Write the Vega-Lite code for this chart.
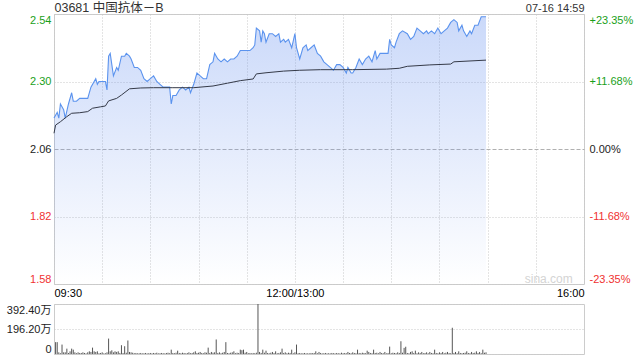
{
  "$schema": "https://vega.github.io/schema/vega-lite/v6.json",
  "padding": {"left": 5, "top": 0, "right": 2, "bottom": 2},
  "background": "#ffffff",
  "datasets": {
    "px": [
      {"m":0,"price":2.17},{"m":2,"price":2.19},{"m":3,"price":2.17},{"m":4,"price":2.22},{"m":6,"price":2.20},{"m":7,"price":2.17},{"m":9,"price":2.22},{"m":11,"price":2.26},{"m":12,"price":2.23},{"m":14,"price":2.23},{"m":16,"price":2.24},{"m":21,"price":2.24},{"m":23,"price":2.28},{"m":26,"price":2.31},{"m":27,"price":2.29},{"m":28,"price":2.30},{"m":30,"price":2.30},{"m":32,"price":2.30},{"m":33,"price":2.27},{"m":34,"price":2.39},{"m":35,"price":2.40},{"m":36,"price":2.36},{"m":37,"price":2.32},{"m":39,"price":2.35},{"m":40,"price":2.34},{"m":42,"price":2.39},{"m":44,"price":2.39},{"m":45,"price":2.40},{"m":47,"price":2.39},{"m":48,"price":2.38},{"m":50,"price":2.35},{"m":52,"price":2.35},{"m":54,"price":2.34},{"m":56,"price":2.31},{"m":58,"price":2.30},{"m":60,"price":2.31},{"m":62,"price":2.32},{"m":64,"price":2.30},{"m":66,"price":2.29},{"m":68,"price":2.28},{"m":70,"price":2.28},{"m":72,"price":2.28},{"m":73,"price":2.22},{"m":74,"price":2.25},{"m":76,"price":2.25},{"m":78,"price":2.27},{"m":80,"price":2.28},{"m":82,"price":2.27},{"m":84,"price":2.28},{"m":85,"price":2.26},{"m":87,"price":2.29},{"m":89,"price":2.33},{"m":91,"price":2.32},{"m":93,"price":2.31},{"m":95,"price":2.31},{"m":97,"price":2.36},{"m":99,"price":2.37},{"m":100,"price":2.40},{"m":102,"price":2.38},{"m":104,"price":2.37},{"m":106,"price":2.38},{"m":108,"price":2.37},{"m":110,"price":2.38},{"m":112,"price":2.38},{"m":114,"price":2.39},{"m":116,"price":2.41},{"m":120,"price":2.41},{"m":122,"price":2.41},{"m":124,"price":2.42},{"m":125,"price":2.43},{"m":126,"price":2.49},{"m":128,"price":2.48},{"m":129,"price":2.44},{"m":130,"price":2.48},{"m":131,"price":2.47},{"m":132,"price":2.44},{"m":134,"price":2.47},{"m":136,"price":2.47},{"m":138,"price":2.46},{"m":140,"price":2.47},{"m":141,"price":2.44},{"m":143,"price":2.45},{"m":144,"price":2.44},{"m":146,"price":2.45},{"m":148,"price":2.42},{"m":150,"price":2.47},{"m":151,"price":2.42},{"m":153,"price":2.38},{"m":155,"price":2.42},{"m":157,"price":2.43},{"m":158,"price":2.41},{"m":160,"price":2.42},{"m":162,"price":2.43},{"m":164,"price":2.40},{"m":166,"price":2.39},{"m":168,"price":2.37},{"m":170,"price":2.36},{"m":172,"price":2.35},{"m":174,"price":2.34},{"m":176,"price":2.36},{"m":178,"price":2.36},{"m":180,"price":2.35},{"m":182,"price":2.33},{"m":183,"price":2.35},{"m":185,"price":2.33},{"m":186,"price":2.33},{"m":188,"price":2.35},{"m":190,"price":2.38},{"m":192,"price":2.36},{"m":194,"price":2.38},{"m":196,"price":2.39},{"m":198,"price":2.37},{"m":200,"price":2.41},{"m":201,"price":2.38},{"m":203,"price":2.40},{"m":206,"price":2.40},{"m":208,"price":2.40},{"m":209,"price":2.45},{"m":210,"price":2.43},{"m":212,"price":2.42},{"m":213,"price":2.44},{"m":215,"price":2.47},{"m":217,"price":2.48},{"m":220,"price":2.47},{"m":222,"price":2.45},{"m":224,"price":2.46},{"m":226,"price":2.49},{"m":228,"price":2.48},{"m":230,"price":2.47},{"m":232,"price":2.48},{"m":233,"price":2.47},{"m":235,"price":2.48},{"m":237,"price":2.47},{"m":239,"price":2.49},{"m":241,"price":2.47},{"m":243,"price":2.48},{"m":245,"price":2.49},{"m":247,"price":2.51},{"m":249,"price":2.52},{"m":251,"price":2.51},{"m":252,"price":2.48},{"m":254,"price":2.50},{"m":255,"price":2.48},{"m":257,"price":2.46},{"m":259,"price":2.48},{"m":260,"price":2.47},{"m":262,"price":2.50},{"m":264,"price":2.50},{"m":266,"price":2.53},{"m":268,"price":2.53},{"m":269,"price":2.53}
    ],
    "avg": [
      {"m":0,"avg":2.116},{"m":1,"avg":2.145},{"m":4,"avg":2.157},{"m":8,"avg":2.175},{"m":11,"avg":2.187},{"m":16,"avg":2.189},{"m":21,"avg":2.193},{"m":24,"avg":2.205},{"m":29,"avg":2.210},{"m":32,"avg":2.213},{"m":34,"avg":2.231},{"m":39,"avg":2.240},{"m":42,"avg":2.252},{"m":47,"avg":2.274},{"m":54,"avg":2.277},{"m":62,"avg":2.278},{"m":74,"avg":2.278},{"m":87,"avg":2.278},{"m":99,"avg":2.284},{"m":108,"avg":2.294},{"m":116,"avg":2.303},{"m":124,"avg":2.309},{"m":126,"avg":2.327},{"m":132,"avg":2.331},{"m":143,"avg":2.337},{"m":153,"avg":2.340},{"m":166,"avg":2.342},{"m":186,"avg":2.342},{"m":207,"avg":2.344},{"m":215,"avg":2.347},{"m":220,"avg":2.354},{"m":234,"avg":2.359},{"m":247,"avg":2.362},{"m":249,"avg":2.370},{"m":269,"avg":2.376}
    ],
    "vol": [
      {"m":1,"vol":93},{"m":2,"vol":93},{"m":3,"vol":13},{"m":4,"vol":6},{"m":5,"vol":74},{"m":6,"vol":13},{"m":7,"vol":13},{"m":8,"vol":42},{"m":9,"vol":8},{"m":10,"vol":21},{"m":11,"vol":42},{"m":12,"vol":34},{"m":13,"vol":13},{"m":14,"vol":6},{"m":15,"vol":13},{"m":16,"vol":8},{"m":17,"vol":8},{"m":18,"vol":13},{"m":19,"vol":8},{"m":20,"vol":5},{"m":21,"vol":13},{"m":22,"vol":21},{"m":23,"vol":16},{"m":24,"vol":50},{"m":25,"vol":21},{"m":26,"vol":16},{"m":27,"vol":21},{"m":28,"vol":6},{"m":29,"vol":8},{"m":30,"vol":13},{"m":31,"vol":5},{"m":32,"vol":6},{"m":33,"vol":13},{"m":34,"vol":121},{"m":35,"vol":21},{"m":36,"vol":29},{"m":37,"vol":13},{"m":38,"vol":21},{"m":39,"vol":16},{"m":40,"vol":21},{"m":41,"vol":8},{"m":42,"vol":69},{"m":43,"vol":8},{"m":44,"vol":61},{"m":45,"vol":10},{"m":46,"vol":106},{"m":47,"vol":16},{"m":48,"vol":13},{"m":49,"vol":10},{"m":50,"vol":6},{"m":51,"vol":8},{"m":52,"vol":5},{"m":53,"vol":6},{"m":54,"vol":8},{"m":55,"vol":5},{"m":56,"vol":6},{"m":57,"vol":8},{"m":58,"vol":5},{"m":59,"vol":6},{"m":60,"vol":8},{"m":61,"vol":5},{"m":62,"vol":8},{"m":63,"vol":6},{"m":64,"vol":10},{"m":65,"vol":5},{"m":66,"vol":6},{"m":67,"vol":8},{"m":68,"vol":6},{"m":69,"vol":5},{"m":70,"vol":8},{"m":71,"vol":10},{"m":72,"vol":6},{"m":73,"vol":34},{"m":74,"vol":8},{"m":75,"vol":6},{"m":76,"vol":10},{"m":77,"vol":26},{"m":78,"vol":8},{"m":79,"vol":6},{"m":80,"vol":10},{"m":81,"vol":8},{"m":82,"vol":5},{"m":83,"vol":8},{"m":84,"vol":13},{"m":85,"vol":6},{"m":86,"vol":8},{"m":87,"vol":13},{"m":88,"vol":21},{"m":89,"vol":8},{"m":90,"vol":10},{"m":91,"vol":16},{"m":92,"vol":8},{"m":93,"vol":6},{"m":94,"vol":13},{"m":95,"vol":10},{"m":96,"vol":50},{"m":97,"vol":8},{"m":98,"vol":16},{"m":99,"vol":10},{"m":100,"vol":13},{"m":101,"vol":114},{"m":102,"vol":8},{"m":103,"vol":13},{"m":104,"vol":6},{"m":105,"vol":10},{"m":106,"vol":16},{"m":107,"vol":93},{"m":108,"vol":8},{"m":109,"vol":6},{"m":110,"vol":10},{"m":111,"vol":13},{"m":112,"vol":21},{"m":113,"vol":6},{"m":114,"vol":10},{"m":115,"vol":8},{"m":116,"vol":34},{"m":117,"vol":30},{"m":118,"vol":34},{"m":119,"vol":10},{"m":120,"vol":16},{"m":121,"vol":6},{"m":122,"vol":8},{"m":123,"vol":5},{"m":124,"vol":8},{"m":125,"vol":6},{"m":126,"vol":10},{"m":127,"vol":392.4},{"m":128,"vol":16},{"m":129,"vol":8},{"m":130,"vol":34},{"m":131,"vol":10},{"m":132,"vol":26},{"m":133,"vol":8},{"m":134,"vol":6},{"m":135,"vol":10},{"m":136,"vol":16},{"m":137,"vol":8},{"m":138,"vol":21},{"m":139,"vol":6},{"m":140,"vol":8},{"m":141,"vol":13},{"m":142,"vol":42},{"m":143,"vol":8},{"m":144,"vol":13},{"m":145,"vol":6},{"m":146,"vol":10},{"m":147,"vol":8},{"m":148,"vol":34},{"m":149,"vol":6},{"m":150,"vol":13},{"m":151,"vol":74},{"m":152,"vol":6},{"m":153,"vol":8},{"m":154,"vol":5},{"m":155,"vol":6},{"m":156,"vol":8},{"m":157,"vol":5},{"m":158,"vol":6},{"m":159,"vol":5},{"m":160,"vol":8},{"m":161,"vol":6},{"m":162,"vol":8},{"m":163,"vol":21},{"m":164,"vol":6},{"m":165,"vol":16},{"m":166,"vol":8},{"m":167,"vol":5},{"m":168,"vol":6},{"m":169,"vol":8},{"m":170,"vol":5},{"m":171,"vol":6},{"m":172,"vol":5},{"m":173,"vol":8},{"m":174,"vol":6},{"m":175,"vol":5},{"m":176,"vol":8},{"m":177,"vol":6},{"m":178,"vol":5},{"m":179,"vol":10},{"m":180,"vol":6},{"m":181,"vol":8},{"m":182,"vol":6},{"m":183,"vol":16},{"m":184,"vol":8},{"m":185,"vol":6},{"m":186,"vol":13},{"m":187,"vol":8},{"m":188,"vol":6},{"m":189,"vol":34},{"m":190,"vol":8},{"m":191,"vol":6},{"m":192,"vol":10},{"m":193,"vol":8},{"m":194,"vol":6},{"m":195,"vol":26},{"m":196,"vol":16},{"m":197,"vol":8},{"m":198,"vol":6},{"m":199,"vol":34},{"m":200,"vol":8},{"m":201,"vol":10},{"m":202,"vol":6},{"m":203,"vol":16},{"m":204,"vol":8},{"m":205,"vol":6},{"m":206,"vol":16},{"m":207,"vol":5},{"m":208,"vol":8},{"m":209,"vol":58},{"m":210,"vol":6},{"m":211,"vol":10},{"m":212,"vol":8},{"m":213,"vol":6},{"m":214,"vol":13},{"m":215,"vol":8},{"m":216,"vol":100},{"m":217,"vol":10},{"m":218,"vol":48},{"m":219,"vol":57},{"m":220,"vol":8},{"m":221,"vol":6},{"m":222,"vol":16},{"m":223,"vol":21},{"m":224,"vol":8},{"m":225,"vol":26},{"m":226,"vol":6},{"m":227,"vol":13},{"m":228,"vol":8},{"m":229,"vol":16},{"m":230,"vol":6},{"m":231,"vol":8},{"m":232,"vol":13},{"m":233,"vol":6},{"m":234,"vol":16},{"m":235,"vol":8},{"m":236,"vol":6},{"m":237,"vol":34},{"m":238,"vol":8},{"m":239,"vol":6},{"m":240,"vol":13},{"m":241,"vol":8},{"m":242,"vol":16},{"m":243,"vol":6},{"m":244,"vol":10},{"m":245,"vol":16},{"m":246,"vol":8},{"m":247,"vol":6},{"m":248,"vol":206},{"m":249,"vol":8},{"m":250,"vol":16},{"m":251,"vol":6},{"m":252,"vol":21},{"m":253,"vol":8},{"m":254,"vol":6},{"m":255,"vol":8},{"m":256,"vol":10},{"m":257,"vol":21},{"m":258,"vol":8},{"m":259,"vol":6},{"m":260,"vol":16},{"m":261,"vol":8},{"m":262,"vol":10},{"m":263,"vol":21},{"m":264,"vol":8},{"m":265,"vol":16},{"m":266,"vol":6},{"m":267,"vol":34},{"m":268,"vol":10},{"m":269,"vol":13}
    ]
  },
  "vconcat": [
    {
      "width": 530,
      "height": 270,
      "layer": [
        {
          "data": {"name": "px"},
          "mark": {"type": "area", "interpolate": "linear", "color": {"gradient": "linear", "x1": 0, "y1": 0, "x2": 0, "y2": 1, "stops": [{"offset": 0, "color": "rgba(110,150,240,0.36)"}, {"offset": 1, "color": "rgba(110,150,240,0.0)"}]}},
          "encoding": {
            "x": {"field": "m", "type": "quantitative", "scale": {"domain": [0, 330], "nice": false, "zero": false},
              "axis": {"orient": "bottom", "values": [0,30,60,90,120,150,180,210,240,270,300,330], "labelExpr": "datum.value == 0 ? '09:30' : datum.value == 150 ? '12:00/13:00' : datum.value == 330 ? '16:00' : ''", "labelFlush": true, "labelOverlap": false, "labelPadding": 3, "grid": true, "gridDash": [1, 2], "gridColor": "#c8c8c8"}},
            "y": {"field": "price", "type": "quantitative", "scale": {"domain": [1.58, 2.54], "nice": false, "zero": false},
              "axis": {"orient": "left", "values": [1.58, 1.82, 2.06, 2.30, 2.54], "format": ".2f", "labelFlush": true, "labelOverlap": false, "labelPadding": 3, "grid": true,
                "labelColor": {"condition": [{"test": "datum.value > 2.07", "value": "#1a9f1a"}, {"test": "datum.value < 2.05", "value": "#f03232"}], "value": "#222222"},
                "gridDash": {"condition": {"test": "abs(datum.value - 2.06) < 0.001", "value": [4, 2]}, "value": [1, 2]},
                "gridColor": {"condition": {"test": "abs(datum.value - 2.06) < 0.001", "value": "#b0b0b0"}, "value": "#c8c8c8"}}},
            "y2": {"datum": 1.58}
          }
        },
        {
          "data": {"name": "px"},
          "mark": {"type": "line", "interpolate": "linear", "color": "#5b93ee", "strokeWidth": 1.1},
          "encoding": {
            "x": {"field": "m", "type": "quantitative",
              "axis": {"orient": "top", "values": [0, 330], "labelExpr": "datum.value == 0 ? '03681 中国抗体－B' : '07-16 14:59'", "labelFlush": true, "labelOverlap": false, "labelBaseline": "alphabetic", "labelPadding": 3, "grid": false, "labelColor": "#333333",
                "labelFontSize": {"condition": {"test": "datum.value == 0", "value": 12.5}, "value": 11}}},
            "y": {"field": "price", "type": "quantitative",
              "axis": {"orient": "right", "values": [1.58, 1.82, 2.06, 2.30, 2.54], "labelExpr": "datum.value > 2.5 ? '+23.35%' : datum.value > 2.2 ? '+11.68%' : datum.value > 2.0 ? '0.00%' : datum.value > 1.7 ? '-11.68%' : '-23.35%'", "labelFlush": true, "labelOverlap": false, "labelPadding": 5, "grid": false,
                "labelColor": {"condition": [{"test": "datum.value > 2.07", "value": "#1a9f1a"}, {"test": "datum.value < 2.05", "value": "#f03232"}], "value": "#222222"}}}
          }
        },
        {
          "data": {"name": "avg"},
          "mark": {"type": "line", "interpolate": "linear", "color": "#353a48", "strokeWidth": 1},
          "encoding": {
            "x": {"field": "m", "type": "quantitative", "axis": null},
            "y": {"field": "avg", "type": "quantitative", "axis": null}
          }
        },
        {
          "data": {"values": [{"label": "sina.com"}]},
          "mark": {"type": "text", "align": "right", "baseline": "middle", "fontSize": 12, "color": "#d4d4d4"},
          "encoding": {
            "x": {"datum": 323, "type": "quantitative", "axis": null},
            "y": {"datum": 1.598, "type": "quantitative", "axis": null},
            "text": {"field": "label"}
          }
        }
      ],
      "resolve": {"axis": {"x": "independent", "y": "independent"}}
    },
    {
      "width": 530,
      "height": 50,
      "data": {"name": "vol"},
      "mark": {"type": "rule", "color": "#555555", "strokeWidth": 1},
      "encoding": {
        "x": {"field": "m", "type": "quantitative", "scale": {"domain": [0, 330], "nice": false, "zero": false}, "axis": null},
        "y": {"field": "vol", "type": "quantitative", "scale": {"domain": [0, 392.4], "nice": false},
          "axis": {"values": [0, 196.2, 392.4], "labelExpr": "datum.value == 0 ? '0' : format(datum.value, '.2f') + '万'", "labelFlush": true, "labelOverlap": false, "labelPadding": 3, "grid": true, "gridDash": [1, 2], "gridColor": "#c8c8c8", "labelColor": "#222222"}},
        "y2": {"datum": 0}
      }
    }
  ],
  "spacing": 4,
  "config": {
    "font": "Liberation Sans, Noto Sans CJK SC",
    "view": {"stroke": "#cccccc"},
    "axis": {"labelFont": "Liberation Sans, Noto Sans CJK SC", "labelFontSize": 11, "ticks": false, "domain": false, "title": null}
  }
}
